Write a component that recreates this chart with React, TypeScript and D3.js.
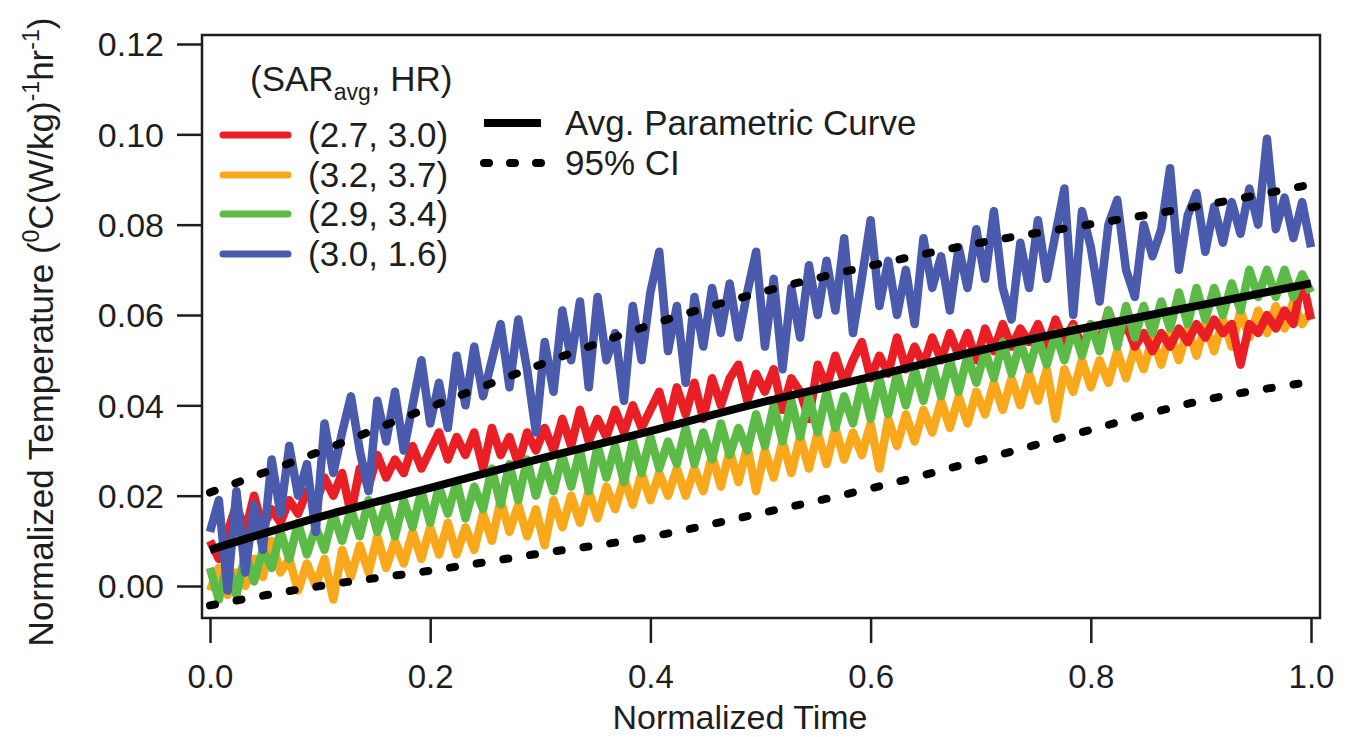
import { useRef, useEffect } from "react";
import * as d3 from "d3";

const width = 1355;
const height = 737;
const frame = { left: 202, top: 35, right: 1320, bottom: 618 };

const xTicks = [0, 0.2, 0.4, 0.6, 0.8, 1.0];
const yTicks = [0, 0.02, 0.04, 0.06, 0.08, 0.1, 0.12];

const seriesLabels = ["(2.7, 3.0)", "(3.2, 3.7)", "(2.9, 3.4)", "(3.0, 1.6)"];
const seriesColors = ["#ea1f26", "#f9a81b", "#5cba47", "#4a5aac"];

// measured traces, evenly sampled over normalized time
const red = [
  0.010, 0.006, 0.012, 0.018, 0.012, 0.020, 0.013, 0.017, 0.014, 0.019,
  0.016, 0.021, 0.018, 0.024, 0.020, 0.025, 0.016, 0.026, 0.022, 0.029,
  0.024, 0.028, 0.025, 0.031, 0.026, 0.030, 0.034, 0.028, 0.033, 0.029,
  0.034, 0.026, 0.035, 0.029, 0.033, 0.027, 0.034, 0.030, 0.035, 0.030,
  0.037, 0.031, 0.039, 0.032, 0.037, 0.033, 0.039, 0.034, 0.040, 0.035,
  0.039, 0.043, 0.036, 0.044, 0.038, 0.045, 0.037, 0.046, 0.040, 0.046,
  0.049, 0.041, 0.047, 0.043, 0.048, 0.039, 0.046, 0.043, 0.037, 0.049,
  0.044, 0.051, 0.045, 0.050, 0.054, 0.046, 0.051, 0.047, 0.055, 0.048,
  0.053, 0.049, 0.055, 0.050, 0.056, 0.051, 0.056, 0.050, 0.057, 0.052,
  0.058, 0.053, 0.057, 0.054, 0.058, 0.053, 0.059, 0.054, 0.058, 0.053,
  0.057, 0.054, 0.061, 0.055, 0.058, 0.053, 0.056, 0.052, 0.056, 0.053,
  0.057, 0.054, 0.058, 0.055, 0.059, 0.056, 0.058, 0.049, 0.058, 0.056,
  0.060, 0.057, 0.061, 0.058, 0.068, 0.059,
];

const orange = [
  -0.001, 0.004, -0.002, 0.003, 0.000, 0.006, 0.002, 0.010, 0.003, 0.006,
  -0.001, 0.005, 0.000, 0.006, -0.003, 0.008, 0.002, 0.009, 0.003, 0.011,
  0.004, 0.010, 0.005, 0.012, 0.006, 0.013, 0.007, 0.014, 0.007, 0.013,
  0.008, 0.016, 0.010, 0.019, 0.012, 0.018, 0.011, 0.017, 0.009, 0.019,
  0.013, 0.020, 0.014, 0.021, 0.015, 0.022, 0.017, 0.024, 0.018, 0.025,
  0.019, 0.025, 0.020, 0.026, 0.020, 0.026, 0.021, 0.029, 0.022, 0.030,
  0.023, 0.031, 0.021, 0.030, 0.024, 0.032, 0.025, 0.033, 0.026, 0.034,
  0.027, 0.035, 0.028, 0.034, 0.029, 0.036, 0.026, 0.037, 0.031, 0.038,
  0.032, 0.039, 0.034, 0.041, 0.035, 0.042, 0.036, 0.043, 0.038, 0.045,
  0.039, 0.046, 0.040, 0.047, 0.041, 0.048, 0.037, 0.048, 0.043, 0.050,
  0.044, 0.050, 0.045, 0.052, 0.046, 0.053, 0.048, 0.055, 0.049, 0.056,
  0.050, 0.057, 0.051, 0.058, 0.052, 0.059, 0.053, 0.061, 0.055, 0.061,
  0.056, 0.062, 0.057, 0.063, 0.058, 0.061,
];

const green = [
  0.004, -0.003, 0.005, -0.002, 0.007, 0.001, 0.008, 0.004, 0.012, 0.006,
  0.014, 0.007, 0.013, 0.008, 0.016, 0.010, 0.017, 0.011, 0.019, 0.012,
  0.018, 0.011, 0.019, 0.013, 0.021, 0.014, 0.022, 0.016, 0.023, 0.015,
  0.022, 0.017, 0.026, 0.018, 0.027, 0.019, 0.028, 0.020, 0.027, 0.021,
  0.029, 0.022, 0.030, 0.021, 0.031, 0.024, 0.031, 0.023, 0.032, 0.025,
  0.033, 0.026, 0.032, 0.027, 0.035, 0.027, 0.034, 0.028, 0.036, 0.029,
  0.035, 0.030, 0.038, 0.031, 0.040, 0.032, 0.041, 0.033, 0.042, 0.034,
  0.043, 0.035, 0.042, 0.036, 0.045, 0.037, 0.046, 0.038, 0.047, 0.040,
  0.048, 0.041, 0.049, 0.042, 0.050, 0.043, 0.051, 0.045, 0.052, 0.046,
  0.054, 0.047, 0.054, 0.048, 0.055, 0.049, 0.056, 0.050, 0.057, 0.051,
  0.058, 0.052, 0.061, 0.053, 0.062, 0.055, 0.062, 0.056, 0.063, 0.057,
  0.065, 0.058, 0.066, 0.059, 0.066, 0.060, 0.067, 0.061, 0.070, 0.064,
  0.070, 0.064, 0.070, 0.064, 0.069, 0.065,
];

const blue = [
  0.012, 0.019, -0.001, 0.021, 0.003, 0.018, 0.008, 0.028, 0.016, 0.031,
  0.020, 0.027, 0.012, 0.036, 0.025, 0.034, 0.042, 0.030, 0.021, 0.041,
  0.032, 0.043, 0.030, 0.040, 0.050, 0.036, 0.045, 0.035, 0.051, 0.040,
  0.053, 0.042, 0.050, 0.058, 0.044, 0.059, 0.048, 0.034, 0.054, 0.043,
  0.061, 0.050, 0.063, 0.044, 0.064, 0.050, 0.056, 0.041, 0.062, 0.050,
  0.065, 0.074, 0.052, 0.062, 0.045, 0.064, 0.053, 0.066, 0.056, 0.067,
  0.055, 0.065, 0.074, 0.053, 0.068, 0.048, 0.066, 0.055, 0.071, 0.060,
  0.072, 0.061, 0.077, 0.056, 0.068, 0.081, 0.062, 0.072, 0.060, 0.070,
  0.058, 0.077, 0.066, 0.073, 0.061, 0.075, 0.066, 0.079, 0.068, 0.083,
  0.066, 0.059, 0.076, 0.066, 0.081, 0.068, 0.078, 0.088, 0.060, 0.083,
  0.075, 0.063, 0.080, 0.0855, 0.070, 0.064, 0.080, 0.073, 0.079, 0.0925,
  0.070, 0.082, 0.087, 0.074, 0.084, 0.076, 0.085, 0.078, 0.088, 0.080,
  0.099, 0.079, 0.086, 0.077, 0.085, 0.075,
];

// parametric fit and confidence band
const fitTime = [0, 0.1, 0.2, 0.3, 0.4, 0.5, 0.6, 0.7, 0.8, 0.9, 1.0];
const avgCurve = [0.008, 0.0153, 0.0217, 0.0282, 0.0343, 0.0406, 0.0463, 0.0522, 0.0574, 0.0622, 0.067];
const ciUpper = [0.0207, 0.0298, 0.0396, 0.049, 0.0578, 0.065, 0.0709, 0.076, 0.0801, 0.0842, 0.0889];
const ciLower = [-0.0043, 0.0, 0.0034, 0.0072, 0.0109, 0.0161, 0.0216, 0.0279, 0.0346, 0.041, 0.0452];

const FONT = "'Liberation Sans', Arial, sans-serif";
const INK = "#1e1e1e";

const App = () => {
  const svgRef = useRef<SVGSVGElement>(null);

  useEffect(() => {
    const svg = d3.select(svgRef.current);
    svg.selectAll("*").remove();

    const x = d3.scaleLinear().domain([0, 1]).range([210, 1311]);
    const y = d3.scaleLinear().domain([0, 0.12]).range([586, 44]);

    // traces drawn bottom to top: orange, red, green, blue
    const traces = [
      { values: orange, color: seriesColors[1] },
      { values: red, color: seriesColors[0] },
      { values: green, color: seriesColors[2] },
      { values: blue, color: seriesColors[3] },
    ];

    const traceLine = d3
      .line<number>()
      .x((d, i, arr) => x(i / (arr.length - 1)))
      .y((d) => y(d));

    svg
      .append("g")
      .selectAll("path")
      .data(traces)
      .join("path")
      .attr("d", (d) => traceLine(d.values))
      .attr("fill", "none")
      .attr("stroke", (d) => d.color)
      .attr("stroke-width", 8.5)
      .attr("stroke-linejoin", "round");

    const fitLine = d3
      .line<number>()
      .x((d, i) => x(fitTime[i]))
      .y((d) => y(d))
      .curve(d3.curveMonotoneX);

    // confidence interval, dotted
    [ciUpper, ciLower].forEach((vals) => {
      svg
        .append("path")
        .attr("d", fitLine(vals))
        .attr("fill", "none")
        .attr("stroke", "#000")
        .attr("stroke-width", 8)
        .attr("stroke-linecap", "round")
        .attr("stroke-dasharray", "5 22");
    });

    svg
      .append("path")
      .attr("d", fitLine(avgCurve))
      .attr("fill", "none")
      .attr("stroke", "#000")
      .attr("stroke-width", 8);

    // frame
    svg
      .append("rect")
      .attr("x", frame.left)
      .attr("y", frame.top)
      .attr("width", frame.right - frame.left)
      .attr("height", frame.bottom - frame.top)
      .attr("fill", "none")
      .attr("stroke", INK)
      .attr("stroke-width", 2.5);

    // y-axis
    const yAxisGroup = svg
      .append("g")
      .attr("transform", `translate(${frame.left},0)`)
      .call(
        d3
          .axisLeft(y)
          .tickValues(yTicks)
          .tickSize(25)
          .tickPadding(13)
          .tickFormat(d3.format(".2f"))
      );
    yAxisGroup.select(".domain").remove();
    yAxisGroup.selectAll("line").attr("stroke", INK).attr("stroke-width", 2.5);
    yAxisGroup
      .selectAll("text")
      .attr("fill", INK)
      .attr("font-family", FONT)
      .attr("font-size", 34)
      .attr("dy", "0.35em");

    // x-axis
    const xAxisGroup = svg
      .append("g")
      .attr("transform", `translate(0,${frame.bottom})`)
      .call(
        d3
          .axisBottom(x)
          .tickValues(xTicks)
          .tickSize(25)
          .tickPadding(22)
          .tickFormat(d3.format(".1f"))
      );
    xAxisGroup.select(".domain").remove();
    xAxisGroup.selectAll("line").attr("stroke", INK).attr("stroke-width", 2.5);
    xAxisGroup
      .selectAll("text")
      .attr("fill", INK)
      .attr("font-family", FONT)
      .attr("font-size", 33);

    // axis titles
    svg
      .append("text")
      .attr("x", 740)
      .attr("y", 729)
      .attr("text-anchor", "middle")
      .attr("font-family", FONT)
      .attr("font-size", 34)
      .attr("fill", INK)
      .text("Normalized Time");

    const yTitle = svg
      .append("text")
      .attr("transform", "translate(53,332) rotate(-90)")
      .attr("text-anchor", "middle")
      .attr("font-family", FONT)
      .attr("font-size", 35)
      .attr("fill", INK);
    yTitle.append("tspan").text("Normalized Temperature (");
    yTitle.append("tspan").attr("font-size", 23).attr("dy", -14).text("0");
    yTitle.append("tspan").attr("dy", 14).text("C(W/kg)");
    yTitle.append("tspan").attr("font-size", 23).attr("dy", -14).text("-1");
    yTitle.append("tspan").attr("dy", 14).text("hr");
    yTitle.append("tspan").attr("font-size", 23).attr("dy", -14).text("-1");
    yTitle.append("tspan").attr("dy", 14).text(")");

    // legend
    const legend = svg
      .append("g")
      .attr("font-family", FONT)
      .attr("font-size", 35)
      .attr("fill", INK);

    const header = legend.append("text").attr("x", 250).attr("y", 91);
    header.append("tspan").text("(SAR");
    header.append("tspan").attr("font-size", 23).attr("dy", 9).text("avg");
    header.append("tspan").attr("dy", -9).text(", HR)");

    const rowY = [135, 175, 214, 254];
    seriesLabels.forEach((label, i) => {
      legend
        .append("line")
        .attr("x1", 223)
        .attr("x2", 288)
        .attr("y1", rowY[i])
        .attr("y2", rowY[i])
        .attr("stroke", seriesColors[i])
        .attr("stroke-width", 7)
        .attr("stroke-linecap", "round");
      legend
        .append("text")
        .attr("x", 308)
        .attr("y", rowY[i] + 12)
        .text(label);
    });

    const fitRows = [
      { label: "Avg. Parametric Curve", y: 123, dash: null },
      { label: "95% CI", y: 163, dash: "5 21" },
    ];
    fitRows.forEach((row) => {
      const l = legend
        .append("line")
        .attr("x1", 484)
        .attr("x2", 541)
        .attr("y1", row.y)
        .attr("y2", row.y)
        .attr("stroke", "#000")
        .attr("stroke-width", 8);
      if (row.dash) {
        l.attr("stroke-dasharray", row.dash).attr("stroke-linecap", "round");
      }
      legend
        .append("text")
        .attr("x", 565)
        .attr("y", row.y + 12)
        .text(row.label);
    });
  }, []);

  return (
    <div style={{ position: "absolute", left: 0, top: 0 }}>
      <svg ref={svgRef} width={width} height={height} style={{ background: "#fff", display: "block" }}></svg>
    </div>
  );
};

export default App;
